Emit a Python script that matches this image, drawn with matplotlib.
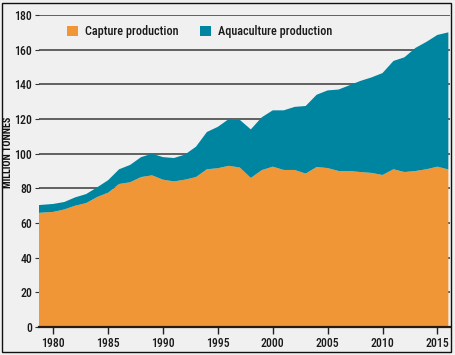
import matplotlib
matplotlib.use("Agg")
import matplotlib.pyplot as plt
from matplotlib.patches import Rectangle, Patch

years = list(range(1978, 2017))
capture = [65.5, 66.0, 66.4, 67.8, 70.0, 71.5, 75.0, 77.5, 82.5, 83.5,
           86.5, 87.5, 85.0, 84.0, 85.0, 86.5, 91.0, 91.6, 93.0, 92.0,
           86.0, 90.5, 92.5, 90.6, 90.6, 88.5, 92.3, 91.7, 90.0, 90.0,
           89.4, 88.9, 87.7, 91.0, 89.4, 90.0, 91.0, 92.5, 90.9]
aquaculture = [4.5, 4.5, 4.6, 4.3, 4.8, 5.2, 5.6, 7.2, 8.5, 10.0,
               11.5, 12.5, 13.0, 13.5, 14.5, 17.5, 21.5, 23.9, 27.0, 27.5,
               28.0, 30.5, 32.5, 34.4, 36.4, 39.0, 41.7, 44.8, 47.0, 49.5,
               52.6, 55.1, 58.8, 62.5, 66.2, 71.0, 73.5, 76.0, 79.1]
series_labels = ["Capture production", "Aquaculture production"]
yticks = [0, 20, 40, 60, 80, 100, 120, 140, 160, 180]
xticks = [1980, 1985, 1990, 1995, 2000, 2005, 2010, 2015]
ylabel = "MILLION TONNES"

ORANGE = "#F19637"
TEAL = "#0085A1"
BG = "#F0F0F0"
FONT = ["Roboto Condensed", "Open Sans Condensed", "Roboto", "DejaVu Sans"]

plt.rcParams["font.family"] = FONT
plt.rcParams["font.stretch"] = "condensed"

W, H = 455, 355
fig = plt.figure(figsize=(W / 100, H / 100), dpi=100, facecolor=BG)
ax = fig.add_axes([39 / W, 1 - 327 / H, (450 - 39) / W, (327 - 15) / H])
ax.set_facecolor(BG)

ax.stackplot(years, capture, aquaculture, colors=[ORANGE, TEAL],
             labels=series_labels, linewidth=0, zorder=2)

ax.set_xlim(1978.7, 2016.15)
ax.set_ylim(0, 180)
ax.set_yticks(yticks)
ax.set_xticks(xticks)
ax.grid(axis="y", color="#3a3a3a", linewidth=1.1, zorder=1)
ax.set_axisbelow(True)

for s in ["top", "right", "left"]:
    ax.spines[s].set_visible(False)
ax.spines["bottom"].set_color("#2a1a10")
ax.spines["bottom"].set_linewidth(1.6)
ax.spines["bottom"].set_zorder(3)

ax.tick_params(axis="y", length=3, width=0.8, color="#333333", pad=2,
               labelsize=8.5, labelcolor="#1a1a1a")
ax.tick_params(axis="x", length=5, width=1.0, color="#222222", pad=2,
               labelsize=8.5, labelcolor="#1a1a1a")
for lab in ax.get_xticklabels() + ax.get_yticklabels():
    lab.set_fontweight("medium")

ax.set_ylabel(ylabel, fontsize=7.2, fontweight="bold", color="#111111")
ax.yaxis.set_label_coords(-0.064, 0.56)

handles = [Patch(facecolor=ORANGE, edgecolor="none"),
           Patch(facecolor=TEAL, edgecolor="none")]
leg = ax.legend(handles, series_labels, ncol=2, frameon=False,
                loc="upper left", bbox_to_anchor=(67 / W, 1 - 25 / H),
                bbox_transform=fig.transFigure, fontsize=8.8,
                handlelength=0.9, handleheight=0.9, handletextpad=0.55,
                columnspacing=1.8, borderpad=0, borderaxespad=0)
for t in leg.get_texts():
    t.set_color("#1a1a1a")
    t.set_fontweight("medium")

fig.patches.append(Rectangle((2 / W, 1 - 352 / H), 449 / W, 349 / H,
                             transform=fig.transFigure, fill=False,
                             edgecolor="#111111", linewidth=1.0))

fig.savefig("out.png", dpi=100, facecolor=BG)
